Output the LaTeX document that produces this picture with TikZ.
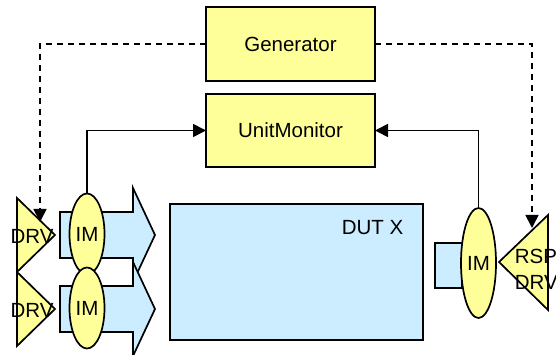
\documentclass[tikz,border=0pt]{standalone}
\usepackage{fontspec}
\setmainfont{Liberation Sans}
\usetikzlibrary{arrows.meta,positioning,shapes.geometric}
\definecolor{unitfill}{HTML}{FFFF99}
\definecolor{dutfill}{HTML}{CCECFF}

\begin{document}
\begin{tikzpicture}[x=1pt,y=-1pt,line width=1.7pt,
    font=\fontsize{20.5}{26}\selectfont,
    unit/.style={draw,fill=unitfill,outer sep=0pt,minimum width=169pt,minimum height=74pt},
    dut/.style={draw,fill=dutfill,outer sep=0pt},
    mon/.style={ellipse,draw,fill=unitfill,outer sep=0pt,inner sep=0pt,minimum width=35pt},
    link/.style={-{Triangle[length=13pt,width=13pt]}},
    stim/.style={link,dash pattern=on 6pt off 5pt}]
\useasboundingbox (0,0) rectangle (556,355);
                            \node[unit] (gen) at (290.5,44) {Generator};
                            \node[unit,minimum height=73pt] (mon) [below=13pt of gen] {UnitMonitor};
                            \node[dut,minimum width=253pt,minimum height=136pt] (dut) at (296.5,272) {};
                            \node (dutlbl) at (372.5,228) {DUT X};
                            % driver side
                            \foreach \y [count=\i] in {235,309} {
                              \draw[fill=dutfill] (60,\y-23) -- (133,\y-23) -- (133,\y-47) -- (155,\y)
                                -- (133,\y+47) -- (133,\y+23) -- (60,\y+23) -- cycle;
                              \draw[fill=unitfill] (17,\y-37) -- (55,\y) -- (17,\y+37) -- cycle;
                              \node (drv\i) at (32,\y+1) {DRV};
                              \node[mon,minimum height=81pt] (im\i) at (87,\y-1) {IM};
                            }
                            % responder side
                            \node[dut,minimum width=27pt,minimum height=45pt] (port) at (448.5,265.5) {};
                            \node[mon,minimum height=110pt] (im3) at (478.5,263) {IM};
                            \draw[fill=unitfill] (548,215) -- (499,262) -- (548,310) -- cycle;
                            \node[align=left,anchor=west,inner sep=0pt] (rsp) at (514,269) {RSP\\DRV};
                            \coordinate (drvA) at (40,222);
                            \coordinate (rspA) at (532,228);
                            \draw[stim] (gen.west) -| (drvA);
                            \draw[stim] (gen.east) -| (rspA);
                            \draw[link] (im1.north) |- (mon.west);
                            \draw[link] (im3.north) |- (mon.east);
                        \end{tikzpicture}
\end{document}
